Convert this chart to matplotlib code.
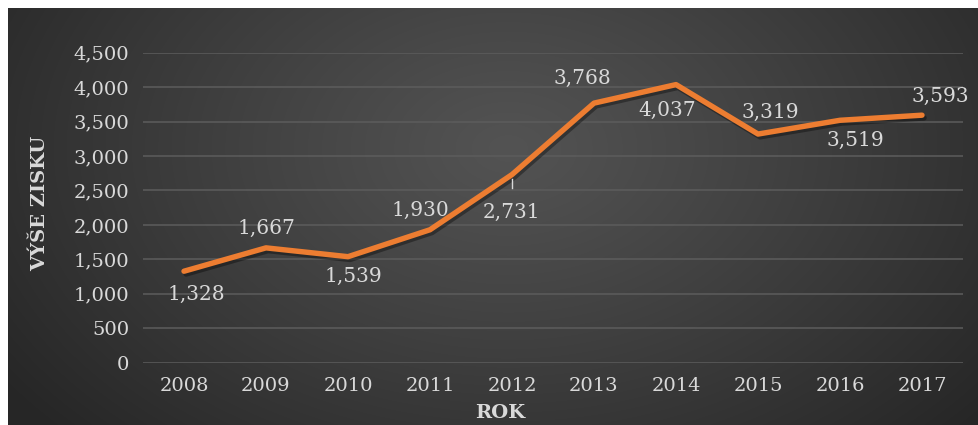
import numpy as np
import matplotlib
matplotlib.use("Agg")
import matplotlib.pyplot as plt
import matplotlib.patheffects as pe

years = ["2008", "2009", "2010", "2011", "2012", "2013", "2014", "2015", "2016", "2017"]
profit = [1328, 1667, 1539, 1930, 2731, 3768, 4037, 3319, 3519, 3593]
label_offsets = [(12, -23), (0, 19), (5, -20), (-10, 19), (0, -38), (-12, 25), (-9, -26), (12, 22), (15, -20), (18, 19)]
y_ticks = [0, 500, 1000, 1500, 2000, 2500, 3000, 3500, 4000, 4500]

W, H = 979, 425
fig = plt.figure(figsize=(W / 100, H / 100), dpi=100)
fig.patch.set_facecolor("white")

# background panel with radial gradient
bg = fig.add_axes([8 / W, 0, (W - 8) / W, (H - 8) / H])
bg.set_axis_off()
yy, xx = np.mgrid[0:417, 0:971]
cx, cy = 500, 140
d = np.sqrt(((xx - cx) / 620.0) ** 2 + ((yy - cy) / 420.0) ** 2)
d = np.clip(d, 0, 1)
inner, outer = 0x53 / 255, 0x26 / 255
val = inner + (outer - inner) * d ** 1.1
img = np.dstack([val, val, val])
bg.imshow(img, aspect="auto", extent=[0, 1, 0, 1], interpolation="bilinear")
bg.set_xlim(0, 1)
bg.set_ylim(0, 1)

left, right = 143 / W, 963 / W
bottom, top = (H - 362.7) / H, (H - 52.7) / H
ax = fig.add_axes([left, bottom, right - left, top - bottom])
ax.patch.set_alpha(0)
for s in ax.spines.values():
    s.set_visible(False)

x = np.arange(len(years))
ax.set_xlim(-0.5, len(years) - 0.5)
ax.set_ylim(0, 4500)
ax.set_yticks(y_ticks)
ax.set_yticklabels([f"{v:,}" for v in y_ticks])
ax.set_xticks(x)
ax.set_xticklabels(years)
ax.grid(axis="y", color="#5c5c5c", linewidth=1.4, alpha=0.8)
ax.set_axisbelow(True)
ax.tick_params(axis="both", length=0, colors="#d9d9d9", labelsize=14)
ax.tick_params(axis="y", pad=10)
ax.tick_params(axis="x", pad=10)
for t in ax.get_xticklabels() + ax.get_yticklabels():
    t.set_fontfamily("DejaVu Serif")
    t.set_color("#d9d9d9")

ax.plot(x, profit, color="#ED7D31", linewidth=3.9, solid_capstyle="round",
        solid_joinstyle="round", zorder=3,
        path_effects=[pe.SimpleLineShadow(offset=(1.5, -2), shadow_color="black", alpha=0.35),
                      pe.Normal()])

for xi, v, (dx, dy) in zip(x, profit, label_offsets):
    ax.annotate(f"{v:,}", (xi, v), xytext=(dx, dy), textcoords="offset pixels",
                ha="center", va="center", fontsize=14.5, color="#d9d9d9",
                family="DejaVu Serif", zorder=4)

# leader line for 2012 label
ax.plot([4, 4], [profit[4] - 60, profit[4] - 200], color="#d9d9d9", linewidth=1, zorder=4)

fig.text(40 / W, 1 - 203 / H, "VÝŠE ZISKU", rotation=90, ha="center", va="center",
         fontsize=14, fontweight="bold", color="#d9d9d9", family="DejaVu Serif")
fig.text(500 / W, 1 - 413 / H, "ROK", ha="center", va="center",
         fontsize=14, fontweight="bold", color="#d9d9d9", family="DejaVu Serif")

fig.savefig("out.png", dpi=100)
